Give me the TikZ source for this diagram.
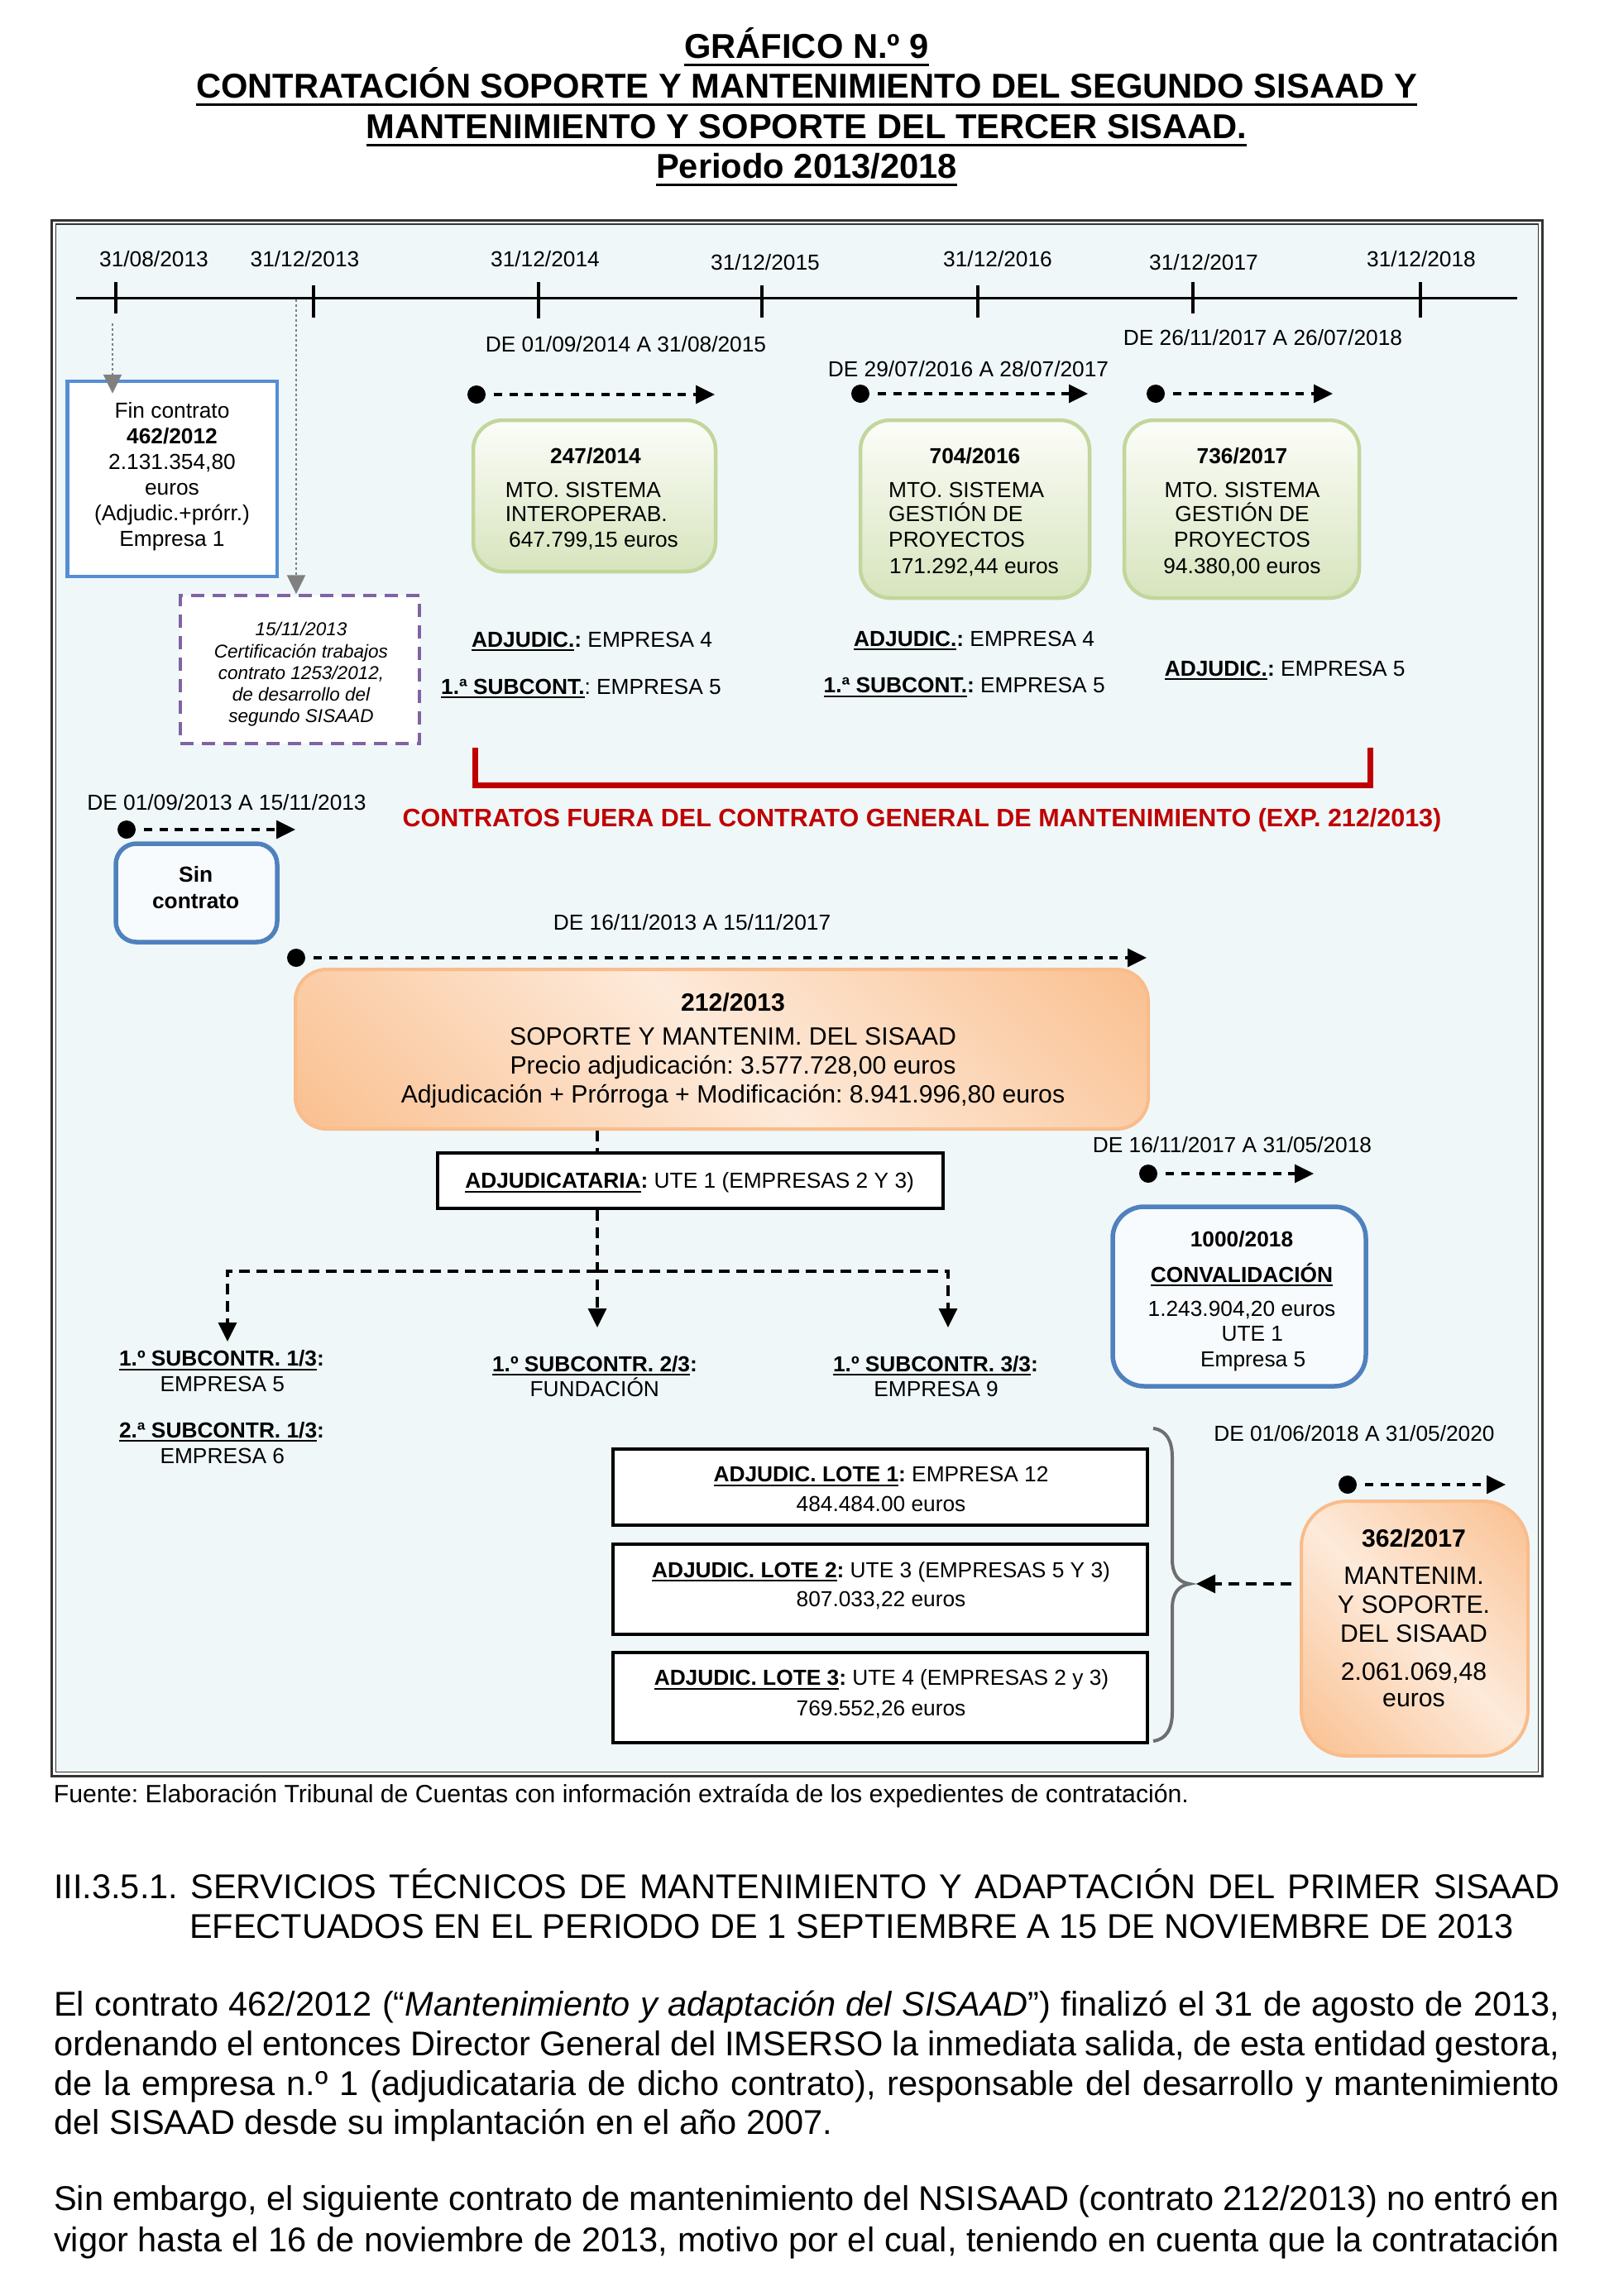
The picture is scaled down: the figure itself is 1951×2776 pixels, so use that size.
\documentclass[tikz,border=0pt]{standalone}
\usepackage{fontspec}
\setmainfont{Liberation Sans}
\usetikzlibrary{arrows.meta}
\frenchspacing
\definecolor{bgc}{RGB}{239,247,249}
\definecolor{gbord}{RGB}{195,214,155}
\definecolor{gtop}{RGB}{252,253,249}
\definecolor{gbot}{RGB}{215,228,189}
\definecolor{bluea}{RGB}{85,142,213}
\definecolor{blueb}{RGB}{79,129,189}
\definecolor{bluefill}{RGB}{248,251,253}
\definecolor{purp}{RGB}{128,100,162}
\definecolor{redc}{RGB}{192,0,0}
\definecolor{ordark}{RGB}{250,192,144}
\definecolor{orlight}{RGB}{253,234,218}
\definecolor{orbord}{RGB}{249,188,138}
\definecolor{grayarr}{RGB}{128,128,128}
\definecolor{bracec}{RGB}{110,110,110}
\pgfdeclarehorizontalshading{orshade}{100bp}{color(0bp)=(ordark); color(15bp)=(ordark); color(50bp)=(orlight); color(85bp)=(ordark); color(100bp)=(ordark)}
\newcommand\fsz[1]{\fontsize{#1}{#1}\selectfont}
\newsavebox\ulbox
\newcommand\myul[1]{\sbox\ulbox{#1}\rlap{\rule[-0.2em]{\wd\ulbox}{0.09em}}\usebox\ulbox}
\newcommand\myulT[1]{\sbox\ulbox{#1}\rlap{\rule[-0.25em]{\wd\ulbox}{0.09em}}\usebox\ulbox}
\tikzset{
  every node/.style={inner sep=0pt},
  tx/.style={anchor=base, font=\fsz{26.3}},
  txw/.style={anchor=base west, font=\fsz{26.3}},
  txb/.style={anchor=base, font=\fsz{26.3}\bfseries},
  big/.style={anchor=base, font=\fsz{30.2}},
  bigb/.style={anchor=base, font=\fsz{30.2}\bfseries},
  ttl/.style={anchor=base, font=\fsz{41.7}\bfseries},
  certt/.style={anchor=base, font=\fsz{22.5}\itshape},
  body/.style={anchor=base west, font=\fsz{41.5}},
  greenbox/.style={draw=gbord, line width=4.5pt, rounded corners=36pt, top color=gtop, bottom color=gbot},
  orangebox/.style={draw=orbord, line width=4pt, shading=orshade, shading angle=45},
  bluebox/.style={draw=blueb, line width=5.5pt, fill=bluefill},
  plainbox/.style={draw=black, line width=3.5pt, fill=white},
  dotn/.style={circle, fill=black, minimum size=22pt},
  period/.style={line width=3.3pt, dash pattern=on 10pt off 8.5pt, -{Triangle[length=23pt,width=22pt]}, shorten <=10pt},
  treeline/.style={line width=3.3pt, dash pattern=on 13pt off 8pt},
  treearrow/.style={treeline, -{Triangle[length=23pt,width=22pt]}},
  grayarrow/.style={grayarr, line width=2.5pt, dash pattern=on 3pt off 3pt, -{Triangle[length=23pt,width=22pt]}},
}
\begin{document}
\begin{tikzpicture}[x=1pt,y=-1pt]
\useasboundingbox (0,0) rectangle (1951,2776);
\fill[white] (0,0) rectangle (1951,2776);

% ---------- title ----------
\node[ttl] (ti1) at (975,70) {\myulT{GRÁFICO N.º 9}};
\node[ttl] (ti2) at (975,118) {\myulT{CONTRATACIÓN SOPORTE Y MANTENIMIENTO DEL SEGUNDO SISAAD Y}};
\node[ttl] (ti3) at (975,167) {\myulT{MANTENIMIENTO Y SOPORTE DEL TERCER SISAAD.}};
\node[ttl] (ti4) at (975,215) {\myulT{Periodo 2013/2018}};

% ---------- frame ----------
\draw[line width=3pt, draw=black!80, fill=white] (62.5,266.5) rectangle (1864,2147);
\draw[line width=1.5pt, draw=black!80, fill=bgc] (67.5,271) rectangle (1859.5,2142.5);

% ---------- timeline ----------
\coordinate (tlA) at (92,360);
\coordinate (tlB) at (1834,360);
\draw[line width=3pt] (tlA) -- (tlB);
\foreach \x/\a/\b in {140/341/379, 378.5/345/384, 651/341/385, 921/345/384, 1182/345/384, 1441.5/341/379, 1717/341/384}
  \draw[line width=4pt] (\x,\a) -- (\x,\b);
\node[tx] (dA) at (186,322) {31/08/2013};
\node[tx] (dB) at (368.5,322) {31/12/2013};
\node[tx] (dC) at (659,322) {31/12/2014};
\node[tx] (dD) at (925,326) {31/12/2015};
\node[tx] (dE) at (1206,322) {31/12/2016};
\node[tx] (dF) at (1455,326) {31/12/2017};
\node[tx] (dG) at (1718,322) {31/12/2018};

% ---------- Fin contrato ----------
\node[draw=bluea, line width=4.5pt, fill=white, minimum width=253.5pt, minimum height=236pt] (fin) at (208.25,579) {};
\node[tx] (f1) at (208,505) {Fin contrato};
\node[txb] (f2) at (208,536) {462/2012};
\node[tx] (f3) at (208,567) {2.131.354,80};
\node[tx] (f4) at (208,598) {euros};
\node[tx] (f5) at (208,629) {(Adjudic.+prórr.)};
\node[tx] (f6) at (208,660) {Empresa 1};
\coordinate (g1s) at (136,391);
\draw[grayarrow, shorten >=-17pt] (g1s) -- (fin.north -| g1s);

% ---------- certificacion ----------
\node[draw=purp, line width=3.5pt, dash pattern=on 16pt off 10pt, fill=white, minimum width=289pt, minimum height=179pt] (cert) at (362.5,809.5) {};
\node[certt] (c1) at (364,768) {15/11/2013};
\node[certt] (c2) at (364,795) {Certificación trabajos};
\node[certt] (c3) at (364,821) {contrato 1253/2012,};
\node[certt] (c4) at (364,847) {de desarrollo del};
\node[certt] (c5) at (364,873) {segundo SISAAD};
\coordinate (g2s) at (358,362);
\draw[grayarrow] (g2s) -- (cert.north -| g2s);

% ---------- green boxes ----------
\node[tx] (pl1) at (756.5,425) {DE 01/09/2014 A 31/08/2015};
\node[dotn] (p1) at (576,477) {};
\coordinate (p1e) at (864,477);
\draw[period] (p1) -- (p1e);
\node[greenbox, minimum width=293pt, minimum height=183pt] (g1) at (718.5,599.5) {};
\node[txb] (g1a) at (720,560) {247/2014};
\node[txw] (g1b) at (610.6,601) {MTO. SISTEMA};
\node[txw] (g1c) at (610.6,630.5) {INTEROPERAB.};
\node[txw] (g1d) at (615,661.6) {647.799,15 euros};
\node[txw] (g1e) at (570,782) {\myul{\textbf{ADJUDIC.}}\textbf{:} EMPRESA 4};
\node[txw] (g1f) at (533,839) {\myul{\textbf{1.ª SUBCONT.}}: EMPRESA 5};

\node[tx] (pl2) at (1170.5,455) {DE 29/07/2016 A 28/07/2017};
\node[dotn] (p2) at (1040,476) {};
\coordinate (p2e) at (1315,476);
\draw[period] (p2) -- (p2e);
\node[greenbox, minimum width=277pt, minimum height=215pt] (g2) at (1178.5,615.5) {};
\node[txb] (g2a) at (1178.5,560) {704/2016};
\node[txw] (g2b) at (1074,601) {MTO. SISTEMA};
\node[txw] (g2c) at (1074,630.5) {GESTIÓN DE};
\node[txw] (g2d) at (1074,661.6) {PROYECTOS};
\node[txw] (g2e) at (1075,693) {171.292,44 euros};
\node[txw] (g2f) at (1032,781) {\myul{\textbf{ADJUDIC.}}\textbf{:} EMPRESA 4};
\node[txw] (g2g) at (995.5,837.6) {\myul{\textbf{1.ª SUBCONT.}}\textbf{:} EMPRESA 5};

\node[tx] (pl3) at (1526.5,417) {DE 26/11/2017 A 26/07/2018};
\node[dotn] (p3) at (1397,476) {};
\coordinate (p3e) at (1611,476);
\draw[period] (p3) -- (p3e);
\node[greenbox, minimum width=284pt, minimum height=215pt] (g3) at (1501,615.5) {};
\node[txb] (g3a) at (1501.5,560) {736/2017};
\node[tx] (g3b) at (1501.5,601) {MTO. SISTEMA};
\node[tx] (g3c) at (1501.5,630.5) {GESTIÓN DE};
\node[tx] (g3d) at (1501.5,661.6) {PROYECTOS};
\node[tx] (g3e) at (1501.5,693) {94.380,00 euros};
\node[txw] (g3f) at (1407.6,817) {\myul{\textbf{ADJUDIC.}}\textbf{:} EMPRESA 5};

% ---------- red bracket ----------
\coordinate (rbL) at (574,904);
\coordinate (rbR) at (1656,904);
\draw[redc, line width=7pt] (rbL) |- (1656,949.5) -- (rbR);
\node[anchor=base, font=\fsz{30.5}\bfseries, text=redc] (red) at (1114.5,999) {CONTRATOS FUERA DEL CONTRATO GENERAL DE MANTENIMIENTO (EXP. 212/2013)};

% ---------- sin contrato ----------
\node[tx] (pl4) at (274,979) {DE 01/09/2013 A 15/11/2013};
\node[dotn] (p4) at (153,1003) {};
\coordinate (p4e) at (357,1003);
\draw[period] (p4) -- (p4e);
\node[bluebox, rounded corners=25pt, minimum width=195pt, minimum height=119pt] (sin) at (237.5,1079.5) {};
\node[txb] (s1) at (236.7,1066.7) {Sin};
\node[txb] (s2) at (236.7,1098) {contrato};

% ---------- 212/2013 ----------
\node[tx] (pl5) at (836.5,1124) {DE 16/11/2013 A 15/11/2017};
\node[dotn] (p5) at (358,1158) {};
\coordinate (p5e) at (1386,1158);
\draw[period] (p5) -- (p5e);
\node[orangebox, rounded corners=38pt, minimum width=1031pt, minimum height=193pt] (main) at (872.5,1268.5) {};
\node[bigb] (m1) at (886,1222.7) {212/2013};
\node[big] (m2) at (886,1263) {SOPORTE Y MANTENIM. DEL SISAAD};
\node[big] (m3) at (886,1298) {Precio adjudicación: 3.577.728,00 euros};
\node[big] (m4) at (886,1333) {Adjudicación + Prórroga + Modificación: 8.941.996,80 euros};

\node[plainbox, minimum width=611pt, minimum height=67pt] (adj) at (834.5,1427.5) {};
\node[tx] (adjt) at (833.6,1436.7) {\myul{\textbf{ADJUDICATARIA}}\textbf{:} UTE 1 (EMPRESAS 2 Y 3)};

% ---------- tree ----------
\coordinate (jn) at (722,1537);
\coordinate (s1t) at (275,1622);
\coordinate (s2t) at (722,1605);
\coordinate (s3t) at (1146,1605);
\draw[treeline] (main.south -| jn) -- (adj.north -| jn);
\draw[treearrow] (adj.south -| jn) -- (s2t);
\draw[treearrow] (jn) -| (s1t);
\draw[treearrow] (jn) -| (s3t);
\node[tx] (sa1) at (268,1651.7) {\myul{\textbf{1.º SUBCONTR. 1/3}}\textbf{:}};
\node[tx] (sa2) at (268.8,1682) {EMPRESA 5};
\node[tx] (sb1) at (268,1738) {\myul{\textbf{2.ª SUBCONTR. 1/3}}\textbf{:}};
\node[tx] (sb2) at (268.8,1769) {EMPRESA 6};
\node[tx] (sc1) at (719,1658) {\myul{\textbf{1.º SUBCONTR. 2/3}}\textbf{:}};
\node[tx] (sc2) at (718.8,1688) {FUNDACIÓN};
\node[tx] (sd1) at (1131,1658) {\myul{\textbf{1.º SUBCONTR. 3/3}}\textbf{:}};
\node[tx] (sd2) at (1131.6,1688) {EMPRESA 9};

% ---------- 1000/2018 ----------
\node[tx] (pl6) at (1489.5,1393) {DE 16/11/2017 A 31/05/2018};
\node[dotn] (p6) at (1388,1419) {};
\coordinate (p6e) at (1588,1419);
\draw[period] (p6) -- (p6e);
\node[bluebox, rounded corners=38pt, minimum width=306pt, minimum height=217pt] (conv) at (1498,1567.5) {};
\node[txb] (cv1) at (1501,1507.7) {1000/2018};
\node[txb] (cv2) at (1501,1550) {\myul{CONVALIDACIÓN}};
\node[tx] (cv3) at (1501,1591.7) {1.243.904,20 euros};
\node[tx] (cv4) at (1513.8,1621.7) {UTE 1};
\node[tx] (cv5) at (1514.7,1652.3) {Empresa 5};

% ---------- lotes ----------
\node[plainbox, minimum width=646pt, minimum height=92pt] (l1) at (1064,1798) {};
\node[tx] (l1a) at (1065,1791.7) {\myul{\textbf{ADJUDIC. LOTE 1}}\textbf{:} EMPRESA 12};
\node[tx] (l1b) at (1065,1827.7) {484.484.00 euros};
\node[plainbox, minimum width=646pt, minimum height=109pt] (l2) at (1064,1921.5) {};
\node[tx] (l2a) at (1065,1907) {\myul{\textbf{ADJUDIC. LOTE 2}}\textbf{:} UTE 3 (EMPRESAS 5 Y 3)};
\node[tx] (l2b) at (1065,1942.7) {807.033,22 euros};
\node[plainbox, minimum width=646pt, minimum height=109pt] (l3) at (1064,2052.5) {};
\node[tx] (l3a) at (1065.5,2037.7) {\myul{\textbf{ADJUDIC. LOTE 3}}\textbf{:} UTE 4 (EMPRESAS 2 y 3)};
\node[tx] (l3b) at (1065,2074) {769.552,26 euros};

% brace
\coordinate (brtip) at (1438,1915);
\draw[bracec, line width=4pt] (1394,1727) .. controls (1410,1729) and (1417,1742) .. (1417,1762) -- (1417,1885) .. controls (1417,1903) and (1424,1913) .. (brtip) .. controls (1424,1917) and (1417,1927) .. (1417,1945) -- (1417,2070) .. controls (1417,2090) and (1410,2103) .. (1394,2105);

% ---------- 362/2017 ----------
\node[tx] (pl7) at (1637,1742) {DE 01/06/2018 A 31/05/2020};
\node[dotn] (p7) at (1629,1795) {};
\coordinate (p7e) at (1820,1795);
\draw[period] (p7) -- (p7e);
\node[orangebox, rounded corners=55pt, minimum width=274pt, minimum height=308pt] (m362) at (1710,1969) {};
\node[bigb] (n1) at (1709,1870) {362/2017};
\node[big] (n2) at (1709,1915) {MANTENIM.};
\node[big] (n3) at (1709,1950) {Y SOPORTE.};
\node[big] (n4) at (1709,1985) {DEL SISAAD};
\node[big] (n5) at (1709,2031.7) {2.061.069,48};
\node[big] (n6) at (1709,2063) {euros};
\draw[treearrow, shorten <=10pt, shorten >=8pt] (m362.west |- brtip) -- (brtip);

% ---------- footer and body text ----------
\node[anchor=base west, font=\fsz{30.2}] (src) at (64.7,2179.5) {Fuente: Elaboración Tribunal de Cuentas con información extraída de los expedientes de contratación.};
\node[body] (h1) at (65,2295) {\makebox[1820pt][s]{III.3.5.1. SERVICIOS TÉCNICOS DE MANTENIMIENTO Y ADAPTACIÓN DEL PRIMER SISAAD}};
\node[body] (h2) at (229,2343) {EFECTUADOS EN EL PERIODO DE 1 SEPTIEMBRE A 15 DE NOVIEMBRE DE 2013};
\node[body] (b1) at (65,2437) {\makebox[1820pt][s]{El contrato 462/2012 (“\textit{Mantenimiento y adaptación del SISAAD}”) finalizó el 31 de agosto de 2013,}};
\node[body] (b2) at (65,2485) {\makebox[1820pt][s]{ordenando el entonces Director General del IMSERSO la inmediata salida, de esta entidad gestora,}};
\node[body] (b3) at (65,2533) {\makebox[1820pt][s]{de la empresa n.º 1 (adjudicataria de dicho contrato), responsable del desarrollo y mantenimiento}};
\node[body] (b4) at (65,2580) {del SISAAD desde su implantación en el año 2007.};
\node[body] (b5) at (65,2672) {\makebox[1820pt][s]{Sin embargo, el siguiente contrato de mantenimiento del NSISAAD (contrato 212/2013) no entró en}};
\node[body] (b6) at (65,2722) {\makebox[1820pt][s]{vigor hasta el 16 de noviembre de 2013, motivo por el cual, teniendo en cuenta que la contratación}};
\end{tikzpicture}
\end{document}
